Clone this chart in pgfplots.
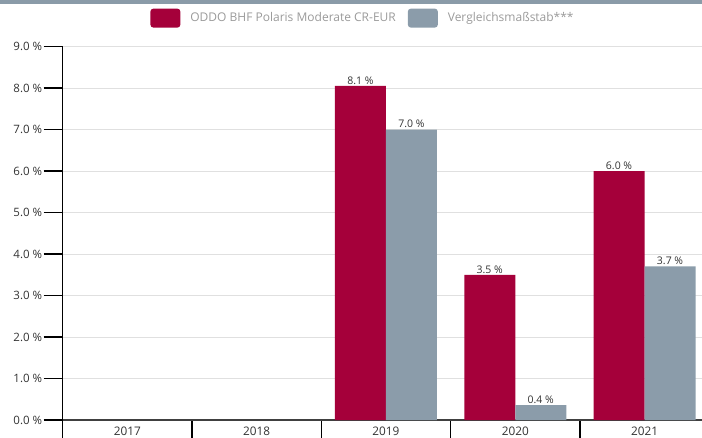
\documentclass[border=0pt]{standalone}
\usepackage{fontspec}
\setmainfont{Open Sans}
\usepackage{pgfplots}
\pgfplotsset{compat=1.18}
\definecolor{fundred}{HTML}{A5003A}
\definecolor{benchgray}{HTML}{8B9CAA}
\definecolor{topbar}{HTML}{8A9BA8}
\definecolor{txt}{HTML}{333333}
\definecolor{legtxt}{HTML}{9A9A9A}
\pgfplotstableread{
x y label
2 8.05 8.1
3 3.5 3.5
4 6.0 6.0
}\fund
\pgfplotstableread{
x y label
2 7.0 7.0
3 0.36 0.4
4 3.7 3.7
}\bench
\begin{document}
\begin{tikzpicture}
\path[use as bounding box] (0,0) rectangle (702pt,437pt);
\fill[topbar] (0,433pt) rectangle (702pt,437pt);
\begin{axis}[
  at={(62.7pt,17pt)}, anchor=south west,
  scale only axis, width=646.5pt, height=373.5pt,
  xmin=-0.5, xmax=4.5, ymin=0, ymax=9,
  axis x line*=bottom, axis y line*=left,
  x axis line style={draw=black!75, line width=1.6pt, -},
  y axis line style={draw=black, line width=1.4pt, -},
  ytick={0,1,...,9},
  yticklabel={\pgfmathprintnumber[fixed,fixed zerofill,precision=1]{\tick} \%},
  /pgf/number format/assume math mode=true,
  tick align=outside,
  major tick length=19pt,
  minor tick length=19pt,
  ytick style={draw=black, line width=1.4pt},
  yticklabel style={font=\fontsize{11.5}{13}\selectfont, text=txt, xshift=2pt},
  ymajorgrids, grid style={draw=black!12, line width=0.6pt},
  xtick={0,1,2,3,4},
  xticklabels={2017,2018,2019,2020,2021},
  major x tick style={draw=none},
  minor xtick={-0.5,0.5,1.5,2.5,3.5,4.5},
  minor x tick style={draw=black, line width=1.4pt},
  xticklabel style={font=\fontsize{11.8}{13}\selectfont, text=txt, yshift=16pt},
  ybar, bar width=51pt,
  nodes near coords={\pgfplotspointmeta{} \%},
  point meta=explicit symbolic,
  every node near coord/.append style={font=\fontsize{10.5}{12}\selectfont, text=txt, yshift=-2pt},
  legend columns=2,
  legend style={draw=none, fill=none, at={(0.4645,1.076)}, anchor=center,
     font=\fontsize{12}{14}\selectfont, text=legtxt,
     /tikz/every even column/.append style={column sep=10pt}},
  legend image code/.code={\fill[#1, rounded corners=3pt] (-4pt,-9.5pt) rectangle (26pt,9.5pt);},
  clip=false,
]
\addplot[draw=none, fill=fundred, bar shift=-25.5pt] table[x=x, y=y, meta=label] {\fund};
\addlegendentry{\hspace{8pt}ODDO BHF Polaris Moderate CR-EUR}
\addplot[draw=none, fill=benchgray, bar shift=25.5pt] table[x=x, y=y, meta=label] {\bench};
\addlegendentry{\hspace{8pt}Vergleichsmaßstab***}
\end{axis}
\end{tikzpicture}
\end{document}
